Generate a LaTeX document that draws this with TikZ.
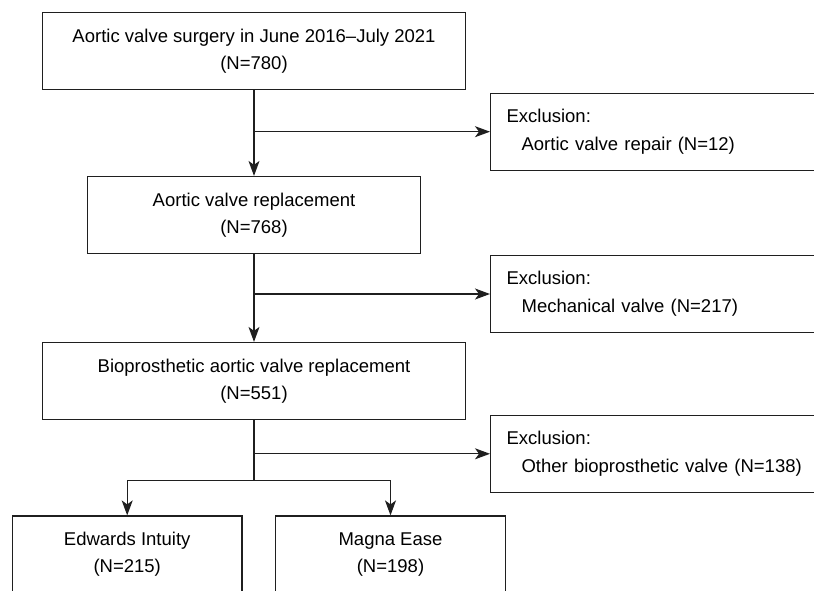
\documentclass[tikz,border=0pt]{standalone}
\usepackage{fontspec}
\setmainfont{Liberation Sans}
\usetikzlibrary{arrows.meta}

\begin{document}
\begin{tikzpicture}[x=1pt, y=-1pt,
    box/.style={draw=black!88, line width=1.2pt, align=center, minimum height=77pt,
      inner sep=0pt, font=\fontsize{18.5}{27}\selectfont},
    exclbox/.style={draw=black!88, line width=1.2pt, anchor=west, minimum height=77pt,
      text width=308pt, inner xsep=16pt, align=left, font=\fontsize{18.5}{28}\selectfont},
    arr/.style={draw=black!88, line width=1.2pt, -{Stealth[length=15pt, width=11pt, inset=4pt]}}]
    \useasboundingbox (0, 0) rectangle (814, 591);
    \clip (0, 0) rectangle (814, 591);
    % main column
    \node[box, minimum width=423pt] (total) at (254, 50.8) {Aortic valve surgery in June 2016--July 2021\\(N=780)};
    \node[box, minimum width=333pt] (avr) at (254, 215) {Aortic valve replacement\\(N=768)};
    \node[box, minimum width=423pt] (bavr) at (254, 381) {Bioprosthetic aortic valve replacement\\(N=551)};
    \node[box, minimum width=229.5pt] (intuity) at (127.2, 554.5) {Edwards Intuity\\(N=215)};
    \node[box, minimum width=229.5pt] (magna) at (390.5, 554.5) {Magna Ease\\(N=198)};
    % exclusions
    \node[exclbox] (exrepair) at (490, 131.7) {Exclusion:\\\hspace*{15pt}Aortic valve repair (N=12)};
    \node[exclbox] (exmech) at (490, 294) {Exclusion:\\\hspace*{15pt}Mechanical valve (N=217)};
    \node[exclbox] (exother) at (490, 453.8) {Exclusion:\\\hspace*{15pt}Other bioprosthetic valve (N=138)};
    \coordinate (split) at (254, 480.3);
    % arrows
    \draw[arr] (total) -- (avr);
    \draw[arr] (avr) -- (bavr);
    \draw[arr] (total.south |- exrepair.west) -- (exrepair.west);
    \draw[arr] (avr.south |- exmech.west) -- (exmech.west);
    \draw[draw=black!88, line width=1.2pt] (bavr.south) -- (split);
    \draw[arr] (bavr.south |- exother.west) -- (exother.west);
    \draw[arr] (split) -| (intuity.north);
    \draw[arr] (split) -| (magna.north);
\end{tikzpicture}
\end{document}
